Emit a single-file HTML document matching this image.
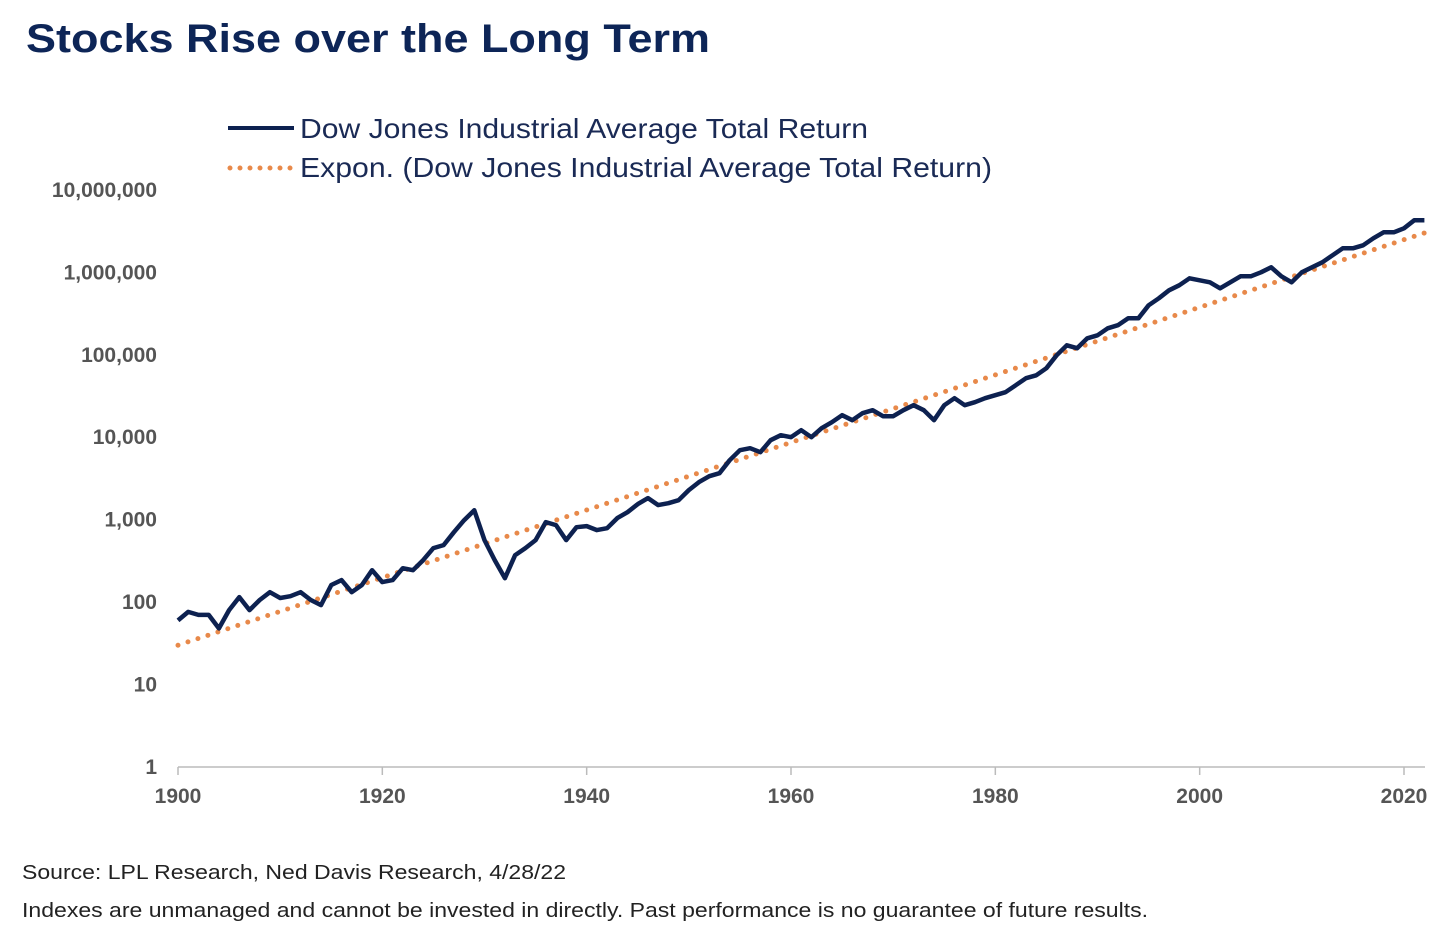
<!DOCTYPE html>
<html><head><meta charset="utf-8"><style>
body{margin:0;background:#fff;width:1456px;height:932px;overflow:hidden;font-family:"Liberation Sans",Arial,sans-serif}
</style></head><body>
<svg width="1456" height="932" xmlns="http://www.w3.org/2000/svg">
<text x="26" y="52" font-size="40" font-weight="bold" fill="#0d2557" textLength="684" lengthAdjust="spacingAndGlyphs">Stocks Rise over the Long Term</text>
<g>
<line x1="228" y1="128" x2="294" y2="128" stroke="#0d2150" stroke-width="4"/>
<text x="300" y="138" font-size="28" fill="#1a2a55" textLength="568" lengthAdjust="spacingAndGlyphs">Dow Jones Industrial Average Total Return</text>
<line x1="230" y1="168" x2="294" y2="168" stroke="#e8894a" stroke-width="5" stroke-linecap="round" stroke-dasharray="0 10"/>
<text x="300" y="177" font-size="28" fill="#1a2a55" textLength="692" lengthAdjust="spacingAndGlyphs">Expon. (Dow Jones Industrial Average Total Return)</text>
</g>
<g id="yaxis"></g>
<g id="xaxis"></g>
<line x1="178" y1="767" x2="1425" y2="767" stroke="#bbb" stroke-width="1.5"/>
<path id="trend" fill="none" stroke="#e8894a" stroke-width="5" stroke-linecap="round" stroke-dasharray="0 10.5"/>
<path id="dow" fill="none" stroke="#0d2150" stroke-width="4.5" stroke-linejoin="round"/>
<text x="22" y="879" font-size="20" fill="#222" textLength="544" lengthAdjust="spacingAndGlyphs">Source: LPL Research, Ned Davis Research, 4/28/22</text>
<text x="22" y="917" font-size="20" fill="#222" textLength="1126" lengthAdjust="spacingAndGlyphs">Indexes are unmanaged and cannot be invested in directly. Past performance is no guarantee of future results.</text>
</svg>
<script>
const startYear = 1900;
const dowValues = [60,76,70,70,48,80,115,80,106,132,112,118,132,106,92,161,185,132,161,244,175,185,258,244,323,452,491,705,986,1300,565,323,195,371,452,565,933,858,565,811,834,746,788,1043,1233,1542,1823,1500,1585,1722,2280,2850,3365,3660,5260,6950,7360,6580,9200,10570,10000,12170,10000,12850,15200,18490,16070,19540,21240,17990,17990,21240,24430,21240,16070,24430,29700,24430,26550,29700,32280,35100,42700,51900,56400,68600,98600,130300,120000,158500,172300,209600,228000,277000,277000,398000,484000,605000,695000,846000,800000,757000,640000,757000,895000,895000,1000000,1150000,895000,757000,1000000,1150000,1322000,1607000,1954000,1954000,2124000,2584000,3053000,3053000,3414000,4270000,4270000];
const trendStart = 30;
const trendEnd = 3000000;
const trendYears = [1900, 2022];
const yTicks = [1,10,100,1000,10000,100000,1000000,10000000];
const yTickLabels = ["1","10","100","1,000","10,000","100,000","1,000,000","10,000,000"];
const xTicks = [1900,1920,1940,1960,1980,2000,2020];

const xS = yr => 178 + (yr - 1900) * (1404 - 178) / 120;
const yS = v => 767 - Math.log10(v) * 82.45;
const NS = "http://www.w3.org/2000/svg";

const ya = document.getElementById('yaxis');
yTicks.forEach((t,i)=>{
  const el = document.createElementNS(NS,'text');
  el.setAttribute('x',157); el.setAttribute('y',yS(t)+7);
  el.setAttribute('text-anchor','end'); el.setAttribute('font-size','21');
  el.setAttribute('font-weight','bold'); el.setAttribute('fill','#555');
  el.textContent = yTickLabels[i];
  
  
  ya.appendChild(el);
});
const xa = document.getElementById('xaxis');
xTicks.forEach(t=>{
  const tk = document.createElementNS(NS,'line');
  tk.setAttribute('x1',xS(t)); tk.setAttribute('x2',xS(t));
  tk.setAttribute('y1',767); tk.setAttribute('y2',775);
  tk.setAttribute('stroke','#bbb'); tk.setAttribute('stroke-width','1.5');
  
  
  xa.appendChild(tk);
  const el = document.createElementNS(NS,'text');
  el.setAttribute('x',xS(t)); el.setAttribute('y',803);
  el.setAttribute('text-anchor','middle'); el.setAttribute('font-size','21');
  el.setAttribute('font-weight','bold'); el.setAttribute('fill','#555');
  el.textContent = t;
  
  
  xa.appendChild(el);
});
let d = '';
dowValues.forEach((v,i)=>{ d += (i?'L':'M') + xS(startYear+i).toFixed(1) + ',' + yS(v).toFixed(1); });
document.getElementById('dow').setAttribute('d', d);
document.getElementById('trend').setAttribute('d',
  'M'+xS(trendYears[0])+','+yS(trendStart)+'L'+xS(trendYears[1])+','+yS(trendEnd));
</script>
</body></html>
